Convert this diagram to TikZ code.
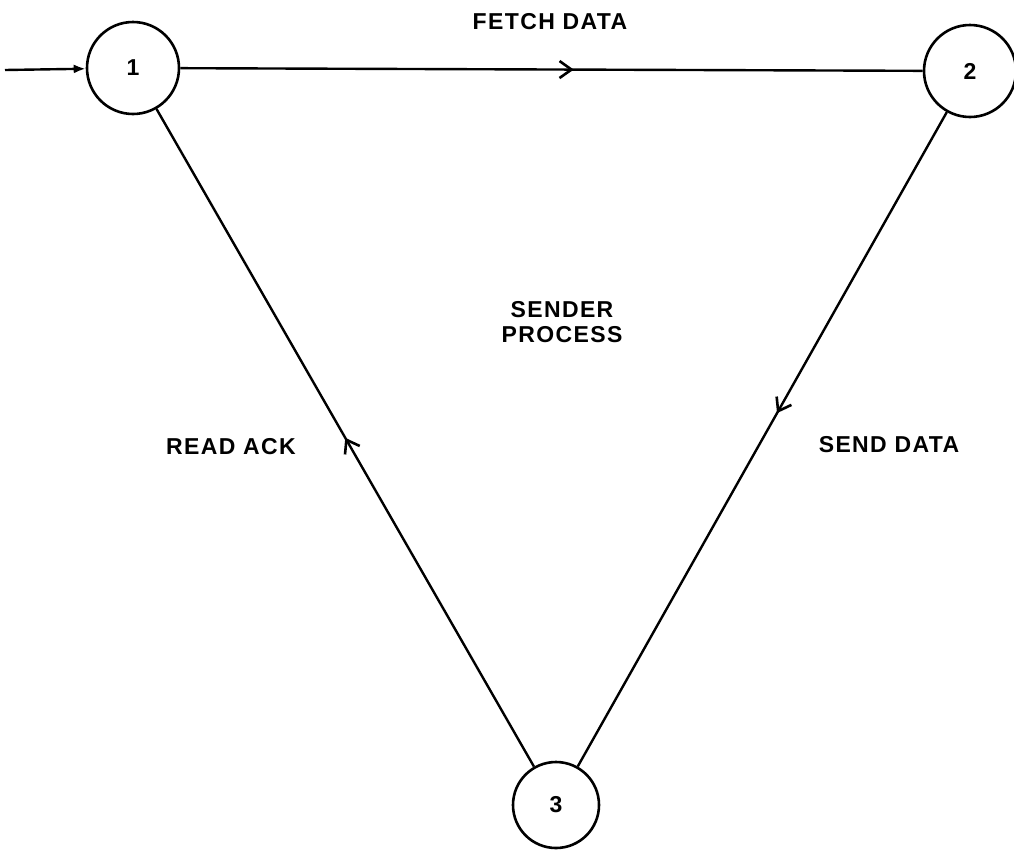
\documentclass[tikz,border=0pt]{standalone}
\usepackage{fontspec}
\setmainfont{Liberation Sans}
\newfontfamily\plotfont[LetterSpace=6]{Liberation Sans}
\usetikzlibrary{arrows.meta,decorations.markings}
\begin{document}
\begin{tikzpicture}[x=1pt,y=-1pt,
  state/.style={circle,draw,line width=2.6pt,minimum size=92pt,inner sep=0pt,font=\fontsize{23}{23}\selectfont\bfseries},
  edge/.style={line width=2.4pt},
  midarrow/.style={postaction={decorate},decoration={markings,
    mark=at position #1 with {\arrow{Straight Barb[length=12pt,width=17pt,line width=2.6pt]}}}},
  lbl/.style={font=\plotfont\fontsize{23}{25}\selectfont\bfseries,align=center}]
\useasboundingbox (0,0) rectangle (1014,849);
\node[state] (s1) at (133,68) {1};
\node[state] (s2) at (970,71) {2};
\node[state,minimum size=86pt] (s3) at (556,805) {3};
\coordinate (in) at (5,70);
\draw[edge,-{Latex[length=12pt,width=9pt]}] (in) -- (s1);
\draw[edge,midarrow=0.53] (s1) -- (s2);
\draw[edge,midarrow=0.5] (s3) -- (s1);
\draw[edge,midarrow=0.46] (s2) -- (s3);
\node[lbl] (fetch) at (550,22) {FETCH DATA};
\node[lbl] (sender) at (562,322) {SENDER\\PROCESS};
\node[lbl] (read) at (231,447) {READ ACK};
\node[lbl] (send) at (889,445) {SEND DATA};
\end{tikzpicture}
\end{document}
